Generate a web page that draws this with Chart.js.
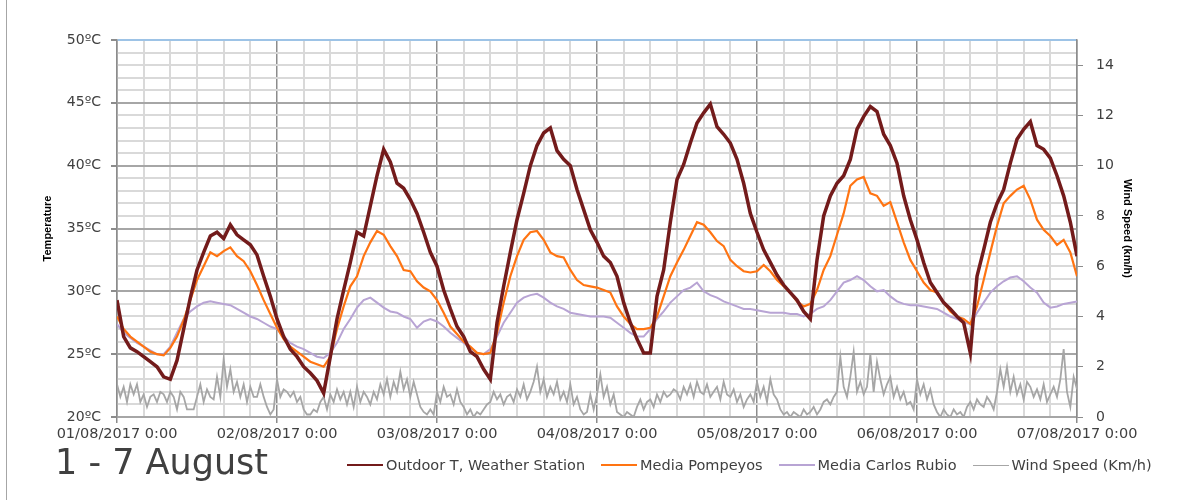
<!DOCTYPE html>
<html>
<head>
<meta charset="utf-8">
<script src="https://cdn.jsdelivr.net/npm/chart.js@4.4.0/dist/chart.umd.min.js"></script>
<style>
  html, body { margin: 0; padding: 0; background: #fff; }
  #wrap { position: relative; width: 1177px; height: 500px; }
  #frame { position: absolute; left: 6px; top: 0; height: 500px; border-left: 1px solid #a6a6a6; }
  #title { position: absolute; left: 55px; top: 442px; font: 35px "DejaVu Sans"; color: #404040; white-space: nowrap; line-height: 40px; }
  #legend { position: absolute; left: 347px; top: 456px; font: 14.5px "DejaVu Sans"; color: #404040; display: flex; white-space: nowrap; line-height: 18px; }
  .item { display: flex; align-items: center; margin-right: 16px; }
  .swatch { width: 36px; height: 0; border-top: 2px solid; margin-right: 3px; }
</style>
</head>
<body>
<div id="wrap">
  <canvas id="myChart" width="1177" height="500"></canvas>
  <div id="frame"></div>
  <div id="title">1 - 7 August</div>
  <div id="legend"></div>
</div>
<script>
const dayLabels = ['01/08/2017 0:00', '02/08/2017 0:00', '03/08/2017 0:00', '04/08/2017 0:00',
  '05/08/2017 0:00', '06/08/2017 0:00', '07/08/2017 0:00'];

// hourly values, 01/08 0:00 .. 07/08 0:00
const outdoorT = [
  29.3, 26.4, 25.5, 25.2, 24.8, 24.4, 24.0, 23.2, 23.0, 24.5,
  27.0, 29.5, 31.7, 33.1, 34.4, 34.7, 34.2, 35.3, 34.5, 34.1,
  33.7, 32.9, 31.2, 29.6, 27.8, 26.4, 25.4, 24.8, 24.0, 23.5,
  22.9, 21.9, 24.8, 27.8, 30.1, 32.3, 34.7, 34.4, 36.8, 39.2,
  41.3, 40.3, 38.6, 38.2, 37.3, 36.2, 34.7, 33.1, 32.0, 30.1,
  28.6, 27.2, 26.4, 25.2, 24.8, 23.8, 23.0, 27.5, 30.4, 33.1,
  35.7, 37.8, 40.0, 41.6, 42.6, 43.0, 41.2, 40.5, 40.0, 38.1,
  36.5, 34.9, 33.9, 32.8, 32.3, 31.2, 29.1, 27.5, 26.2, 25.1,
  25.1, 29.6, 31.7, 35.5, 38.9, 40.1, 41.8, 43.4, 44.2, 44.9,
  43.1, 42.5, 41.8, 40.5, 38.6, 36.2, 34.7, 33.3, 32.3, 31.3,
  30.5, 29.9, 29.3, 28.4, 27.8, 32.5, 36.0, 37.6, 38.6, 39.2,
  40.5, 42.9, 43.9, 44.7, 44.3, 42.5, 41.6, 40.2, 37.6, 35.7,
  34.1, 32.3, 30.7, 29.9, 29.1, 28.6, 28.0, 27.5, 25.1, 31.2,
  33.3, 35.5, 37.0, 38.1, 40.2, 42.1, 42.9, 43.5, 41.6, 41.3,
  40.6, 39.2, 37.6, 35.5, 32.8
];
const mediaPompeyos = [
  28.0, 27.0, 26.4, 26.0, 25.6, 25.2, 25.0, 24.9, 25.5, 26.4,
  27.7, 29.3, 30.9, 32.0, 33.1, 32.8, 33.2, 33.5, 32.8, 32.4,
  31.6, 30.5, 29.3, 28.2, 27.1, 26.2, 25.6, 25.2, 24.8, 24.4,
  24.2, 24.0, 24.8, 27.0, 28.8, 30.4, 31.2, 32.8, 33.9, 34.8,
  34.5, 33.6, 32.8, 31.7, 31.6, 30.8, 30.3, 30.0, 29.3, 28.3,
  27.2, 26.6, 26.0, 25.6, 25.1, 25.0, 25.1, 26.7, 29.1, 31.2,
  32.8, 34.1, 34.7, 34.8, 34.1, 33.1, 32.8, 32.7, 31.7, 30.9,
  30.5, 30.4, 30.3, 30.1, 29.9, 28.8, 28.0, 27.4, 27.0, 27.0,
  27.1, 28.0, 29.6, 31.2, 32.3, 33.3, 34.4, 35.5, 35.3, 34.7,
  34.0, 33.6, 32.5, 32.0, 31.6, 31.5, 31.6, 32.1, 31.6, 30.9,
  30.4, 29.9, 29.2, 28.8, 29.0, 30.1, 31.7, 32.8, 34.5, 36.2,
  38.4, 38.9, 39.1, 37.8, 37.6, 36.8, 37.1, 35.5, 33.9, 32.5,
  31.6, 30.7, 30.1, 29.9, 29.1, 28.4, 28.0, 27.8, 27.4, 28.8,
  30.9, 33.1, 35.2, 37.0, 37.6, 38.1, 38.4, 37.3, 35.7, 34.9,
  34.4, 33.7, 34.1, 33.1, 31.2
];
const mediaCarlosRubio = [
  27.4, 26.7, 26.3, 25.9, 25.6, 25.3, 25.0, 25.0, 25.6, 26.7,
  27.8, 28.4, 28.8, 29.1, 29.2, 29.1, 29.0, 28.9, 28.6, 28.3,
  28.0, 27.8, 27.5, 27.2, 27.0, 26.4, 25.9, 25.6, 25.4, 25.1,
  24.8, 24.7, 25.1, 25.9, 27.0, 27.8, 28.7, 29.3, 29.5, 29.1,
  28.7, 28.4, 28.3, 28.0, 27.8, 27.1, 27.6, 27.8, 27.6, 27.2,
  26.7, 26.3, 25.9, 25.5, 25.1, 25.0, 25.4, 26.4, 27.5, 28.3,
  29.1, 29.5, 29.7, 29.8, 29.5, 29.1, 28.8, 28.6, 28.3, 28.2,
  28.1, 28.0, 28.0, 28.0, 27.9, 27.5, 27.1, 26.7, 26.4, 26.4,
  27.0, 27.8, 28.4, 29.1, 29.6, 30.1, 30.3, 30.7, 30.0, 29.7,
  29.5, 29.2, 29.0, 28.8, 28.6, 28.6, 28.5, 28.4, 28.3, 28.3,
  28.3, 28.2, 28.2, 28.0, 28.2, 28.6, 28.8, 29.3, 30.0, 30.7,
  30.9, 31.2, 30.9, 30.4, 30.0, 30.1, 29.6, 29.2, 29.0, 28.9,
  28.9, 28.8, 28.7, 28.6, 28.3, 28.0, 27.8, 27.5, 27.4, 28.3,
  29.1, 29.9, 30.4, 30.8, 31.1, 31.2, 30.8, 30.3, 29.9, 29.1,
  28.7, 28.8, 29.0, 29.1, 29.2
];
// half-hourly values
const windSpeed = [
  1.3, 0.8, 1.2, 0.6, 1.3, 0.9, 1.3, 0.6, 0.9, 0.4, 0.8, 0.9, 0.6, 1.0, 0.9, 0.6,
  1.0, 0.8, 0.3, 1.0, 0.8, 0.3, 0.3, 0.3, 0.8, 1.3, 0.6, 1.1, 0.8, 0.7, 1.6, 0.8,
  2.3, 1.2, 1.9, 1.0, 1.4, 0.8, 1.3, 0.6, 1.2, 0.8, 0.8, 1.3, 0.8, 0.4, 0.1, 0.3,
  1.5, 0.8, 1.1, 1.0, 0.8, 1.0, 0.6, 0.8, 0.3, 0.1, 0.1, 0.3, 0.2, 0.6, 0.8, 0.3,
  0.9, 0.6, 1.1, 0.7, 1.0, 0.5, 1.0, 0.4, 1.2, 0.6, 1.0, 0.8, 0.5, 1.0, 0.7, 1.3,
  0.9, 1.5, 0.8, 1.4, 1.0, 1.8, 1.1, 1.5, 0.8, 1.4, 0.9, 0.4, 0.2, 0.1, 0.3, 0.1,
  1.0, 0.6, 1.2, 0.8, 0.9, 0.5, 1.1, 0.6, 0.4, 0.1, 0.3, 0.0, 0.2, 0.1, 0.3, 0.5,
  0.6, 1.0, 0.7, 0.9, 0.5, 0.8, 0.9, 0.6, 1.1, 0.8, 1.3, 0.7, 1.0, 1.4, 2.0, 1.0,
  1.5, 0.8, 1.2, 0.9, 1.4, 0.7, 1.0, 0.6, 1.3, 0.5, 0.8, 0.3, 0.1, 0.2, 0.9, 0.3,
  0.9, 1.7, 0.8, 1.2, 0.5, 0.9, 0.2, 0.1, 0.0, 0.2, 0.1, 0.0, 0.4, 0.7, 0.3, 0.6,
  0.7, 0.4, 0.9, 0.6, 1.0, 0.8, 0.9, 1.1, 1.0, 0.7, 1.2, 0.9, 1.3, 0.8, 1.4, 1.0,
  0.9, 1.3, 0.8, 1.0, 1.2, 0.7, 1.4, 0.9, 0.8, 1.1, 0.6, 0.9, 0.4, 0.7, 0.9, 0.6,
  1.4, 0.8, 1.2, 0.6, 1.5, 0.9, 0.7, 0.3, 0.1, 0.2, 0.0, 0.2, 0.1, 0.0, 0.3, 0.1,
  0.2, 0.4, 0.1, 0.3, 0.6, 0.7, 0.5, 0.8, 1.0, 2.4, 1.2, 0.8, 1.6, 2.6, 1.0, 1.4,
  0.9, 1.2, 2.5, 1.0, 2.2, 1.5, 0.9, 1.3, 1.6, 0.8, 1.2, 0.7, 1.0, 0.5, 0.6, 0.3,
  1.5, 0.9, 1.3, 0.7, 1.1, 0.5, 0.2, 0.0, 0.3, 0.1, 0.0, 0.3, 0.1, 0.2, 0.0, 0.4,
  0.6, 0.3, 0.7, 0.5, 0.4, 0.8, 0.6, 0.3, 1.0, 1.9, 1.2, 2.0, 1.0, 1.6, 0.9, 1.3,
  0.7, 1.4, 1.2, 0.8, 1.1, 0.7, 1.3, 0.6, 0.9, 1.2, 0.8, 1.5, 2.7, 1.0, 0.4, 1.6,
  1.1
];

const toPoints = (arr, step) => arr.map((v, i) => ({ x: i * step, y: v }));

Chart.defaults.font.family = 'DejaVu Sans';
Chart.defaults.color = '#404040';

const ctx = document.getElementById('myChart');

const myChart = new Chart(ctx, {
  type: 'line',
  data: {
    datasets: [
      { label: 'Outdoor T, Weather Station', data: toPoints(outdoorT, 1), borderColor: '#731b1b', borderWidth: 3.5, yAxisID: 'y' },
      { label: 'Media Pompeyos', data: toPoints(mediaPompeyos, 1), borderColor: '#ff7412', borderWidth: 2.2, yAxisID: 'y' },
      { label: 'Media Carlos Rubio', data: toPoints(mediaCarlosRubio, 1), borderColor: '#b8a4d4', borderWidth: 2, yAxisID: 'y' },
      { label: 'Wind Speed (Km/h)', data: toPoints(windSpeed, 0.5), borderColor: '#a6a6a6', borderWidth: 1.8, yAxisID: 'y1' },
    ],
  },
  options: {
    responsive: false,
    animation: false,
    elements: { point: { radius: 0 }, line: { tension: 0 } },
    layout: { padding: { top: 40, left: 0, right: 0, bottom: 0 } },
    plugins: { legend: { display: false }, tooltip: { enabled: false } },
    scales: {
      x: {
        type: 'linear',
        min: 0,
        max: 144,
        afterFit: (s) => { s.height = 83; },
        ticks: {
          stepSize: 4,
          autoSkip: false,
          maxRotation: 0,
          padding: 3,
          font: { size: 14.5 },
          callback: (v) => (v % 24 === 0 ? dayLabels[v / 24] : ''),
        },
        grid: {
          color: (c) => (c.tick.value % 24 === 0 ? '#8c8c8c' : '#d9d9d9'),
          lineWidth: (c) => (c.tick.value % 24 === 0 ? 1.5 : 2),
          tickLength: 6,
          tickColor: (c) => (c.tick.value % 24 === 0 ? '#8c8c8c' : 'rgba(0,0,0,0)'),
        },
        border: { display: false },
      },
      y: {
        position: 'left',
        min: 20,
        max: 50,
        afterFit: (s) => { s.width = 117; },
        ticks: {
          stepSize: 1,
          autoSkip: false,
          padding: 10,
          font: { size: 14 },
          callback: (v) => (v % 5 === 0 ? v + 'ºC' : ''),
        },
        grid: {
          color: (c) => (c.tick.value === 50 ? '#9dc3e6' : c.tick.value % 5 === 0 ? '#a6a6a6' : '#d9d9d9'),
          lineWidth: 2,
          tickLength: 6,
          tickColor: (c) => (c.tick.value % 5 === 0 ? '#8c8c8c' : 'rgba(0,0,0,0)'),
        },
        border: { color: '#8c8c8c', width: 1.5 },
        title: {
          display: true,
          text: 'Temperature',
          color: '#000',
          font: { family: 'Liberation Sans', weight: 'bold', size: 11 },
          padding: { top: 41, bottom: 0 },
        },
      },
      y1: {
        position: 'right',
        min: 0,
        max: 15,
        afterFit: (s) => { s.width = 100; },
        ticks: { stepSize: 2, includeBounds: false, padding: 13, font: { size: 14 } },
        grid: { drawOnChartArea: false, tickLength: 6, color: '#8c8c8c' },
        border: { color: '#8c8c8c', width: 1.5 },
        title: {
          display: true,
          text: 'Wind Speed (km/h)',
          color: '#000',
          font: { family: 'Liberation Sans', weight: 'bold', size: 11 },
          padding: { top: 43, bottom: 0 },
        },
      },
    },
  },
});

// legend in html
const legendBox = document.getElementById('legend');
myChart.data.datasets.forEach(function (ds) {
  const item = document.createElement('div');
  item.className = 'item';
  const sw = document.createElement('span');
  sw.className = 'swatch';
  sw.style.borderTopColor = ds.borderColor;
  sw.style.borderTopWidth = (ds.yAxisID === 'y1' ? 1.5 : 2.5) + 'px';
  const txt = document.createElement('span');
  txt.textContent = ds.label;
  item.appendChild(sw);
  item.appendChild(txt);
  legendBox.appendChild(item);
});
</script>
</body>
</html>
